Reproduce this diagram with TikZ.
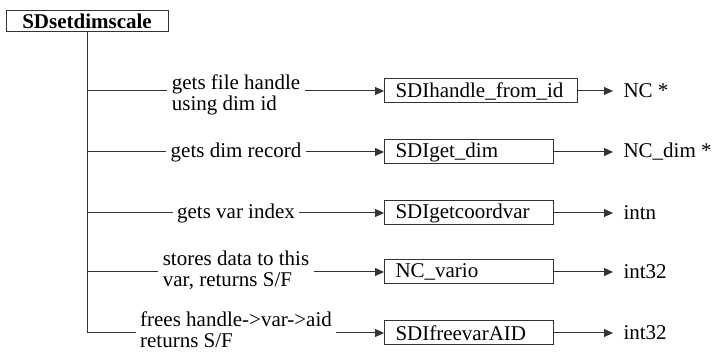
\documentclass[tikz,border=0pt]{standalone}
\usepackage{fontspec}
\setmainfont{Liberation Serif}
\usetikzlibrary{arrows.meta}

\begin{document}
\begin{tikzpicture}[x=0.5pt,y=-0.5pt,line width=0.5pt,draw=black!80,
		>={Triangle[length=4.5pt,width=4pt]},
		font=\fontsize{10.5}{10.5}\selectfont,
		func/.style={draw,anchor=west,align=left,inner xsep=5.5pt,inner ysep=0pt,minimum height=12pt,text width=73.5pt},
		lbl/.style={align=left,inner xsep=2pt,inner ysep=0pt},
		res/.style={anchor=west,inner xsep=5pt,inner ysep=0pt}]
		\useasboundingbox (0,0) rectangle (714,356);
		\node[draw,font=\fontsize{10.5}{10.5}\selectfont\bfseries,minimum width=81pt,minimum height=10.5pt,inner sep=0pt] (main) at (87,21.5) {SDsetdimscale};
		% called routines
		\node[func,text width=85.5pt] (f1) at (384,91) {SDIhandle\_from\_id};
		\node[func] (f2) at (384,152) {SDIget\_dim};
		\node[func] (f3) at (384,213) {SDIgetcoordvar};
		\node[func] (f4) at (384,272) {NC\_vario};
		\node[func] (f5) at (384,333) {SDIfreevarAID};
		% what they do
		\node[lbl] (l1) at (236,95) {gets file handle\\using dim id};
		\node[lbl] (l2) at (236,152) {gets dim record};
		\node[lbl] (l3) at (236,213) {gets var index};
		\node[lbl] (l4) at (236,270) {stores data to this\\var, returns S/F};
		\node[lbl] (l5) at (236,330) {frees handle->var->aid\\returns S/F};
		% return types
		\node[res] (r1) at (613,91) {NC *};
		\node[res] (r2) at (613,152) {NC\_dim *};
		\node[res] (r3) at (613,213) {intn};
		\node[res] (r4) at (613,272) {int32};
		\node[res] (r5) at (613,333) {int32};
		\draw (main.south) -- (main.south |- f5.west);
		\foreach \i in {1,...,5}{
			\draw (main.south |- f\i.west) -- (l\i.west |- f\i.west);
			\draw[->] (l\i.east |- f\i.west) -- (f\i.west);
			\draw[->] (f\i.east) -- (r\i.west);
		}
	\end{tikzpicture}
\end{document}
